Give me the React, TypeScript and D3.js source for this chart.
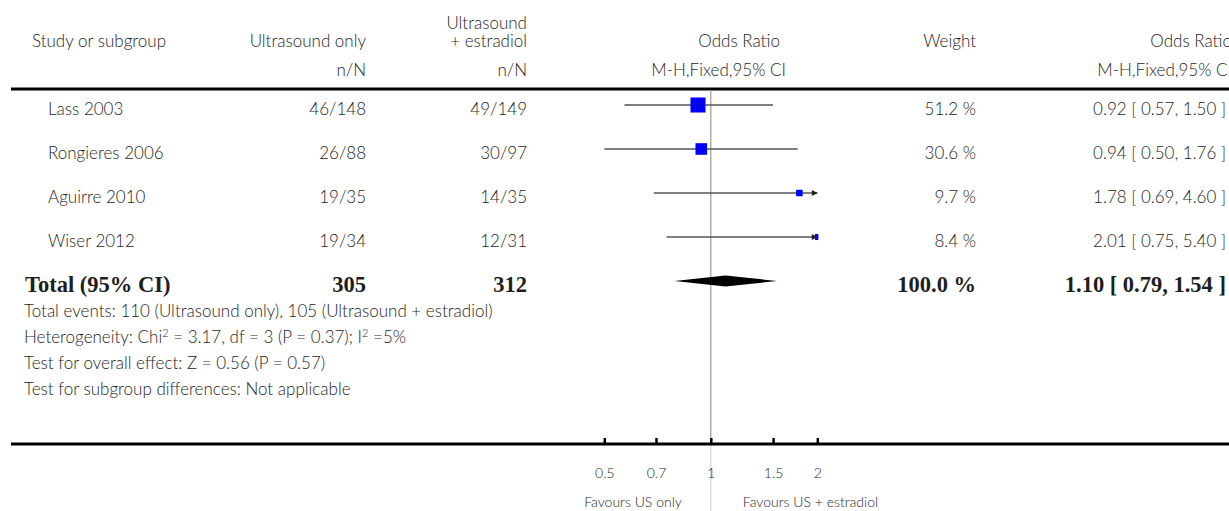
import { useEffect, useRef } from "react";
import * as d3 from "d3";

const studies = ["Lass 2003", "Rongieres 2006", "Aguirre 2010", "Wiser 2012"];
const usOnly = ["46/148", "26/88", "19/35", "19/34"];
const usEstradiol = ["49/149", "30/97", "14/35", "12/31"];
const oddsRatio = [0.92, 0.94, 1.78, 2.01];
const lowerCI = [0.57, 0.5, 0.69, 0.75];
const upperCI = [1.5, 1.76, 4.6, 5.4];
const weights = [51.2, 30.6, 9.7, 8.4];

const total = { label: "Total (95% CI)", usOnly: "305", usEstradiol: "312", weight: "100.0 %", or: 1.1, lower: 0.79, upper: 1.54 };

const footnotes = [
  "Total events: 110 (Ultrasound only), 105 (Ultrasound + estradiol)",
  "Heterogeneity: Chi² = 3.17, df = 3 (P = 0.37); I² =5%",
  "Test for overall effect: Z = 0.56 (P = 0.57)",
  "Test for subgroup differences: Not applicable",
];

const tickValues = [0.5, 0.7, 1, 1.5, 2];
const tickLabels = ["0.5", "0.7", "1", "1.5", "2"];

const SANS = "Lato, 'Open Sans', sans-serif";
const SERIF = "'Liberation Serif', 'DejaVu Serif', serif";

export default function App() {
  const svgRef = useRef<SVGSVGElement>(null);

  useEffect(() => {
    if (!svgRef.current) return;
    const svg = d3.select(svgRef.current);
    svg.selectAll("*").remove();

    const width = 1229;
    const col = { study: 48, usOnly: 366, usEst: 527, weight: 976, orText: 1226 };
    const rowY0 = 105;
    const rowStep = 44;
    const totalY = 281;
    const axisY = 444;
    const fs = 17;

    const x = d3.scaleLog().domain([0.5, 2]).range([604.3, 817.3]);
    const [xMin, xMax] = x.range();

    const text = (
      t: string,
      tx: number,
      ty: number,
      anchor = "start",
      size = fs,
      family = SANS,
      weight: string | number = 300
    ) =>
      svg
        .append("text")
        .attr("x", tx)
        .attr("y", ty)
        .attr("text-anchor", anchor)
        .attr("font-family", family)
        .attr("font-size", size)
        .attr("font-weight", weight)
        .attr("fill", "#1e1e1e")
        .text(t);

    // header
    text("Ultrasound", col.usEst, 29, "end");
    text("Study or subgroup", 32, 47);
    text("Ultrasound only", col.usOnly, 47, "end");
    text("+ estradiol", col.usEst, 47, "end");
    text("Odds Ratio", 780, 47, "end");
    text("Weight", col.weight, 47, "end");
    text("Odds Ratio", 1232, 47, "end");
    text("n/N", col.usOnly, 76, "end");
    text("n/N", col.usEst, 76, "end");
    text("M-H,Fixed,95% CI", 786, 76, "end");
    text("M-H,Fixed,95% CI", 1232, 76, "end");

    svg.append("line")
      .attr("x1", 11).attr("x2", width)
      .attr("y1", 89).attr("y2", 89)
      .attr("stroke", "#000").attr("stroke-width", 3);

    // vertical line of no effect
    svg.append("line")
      .attr("x1", x(1)).attr("x2", x(1))
      .attr("y1", 90).attr("y2", axisY)
      .attr("stroke", "#9a9a9a").attr("stroke-width", 1.2);
    svg.append("line")
      .attr("x1", x(1)).attr("x2", x(1))
      .attr("y1", axisY).attr("y2", 511)
      .attr("stroke", "#d4d4d4").attr("stroke-width", 1.2);

    const clip = (v: number) => Math.max(xMin, Math.min(xMax, v));

    svg.append("defs").append("clipPath").attr("id", "plotClip")
      .append("rect").attr("x", xMin - 1).attr("y", 80).attr("width", xMax - xMin + 2).attr("height", 300);

    const plot = svg.append("g").attr("clip-path", "url(#plotClip)");

    studies.forEach((name, i) => {
      const y = rowY0 + i * rowStep;
      text(name, col.study, y + 10);
      text(usOnly[i], col.usOnly, y + 10, "end");
      text(usEstradiol[i], col.usEst, y + 10, "end");
      text(`${weights[i].toFixed(1)} %`, col.weight, y + 10, "end");
      text(
        `${oddsRatio[i].toFixed(2)} [ ${lowerCI[i].toFixed(2)}, ${upperCI[i].toFixed(2)} ]`,
        col.orText, y + 10, "end"
      );

      const lo = clip(x(lowerCI[i]));
      const hiRaw = x(upperCI[i]);
      const hi = clip(hiRaw);
      plot.append("line")
        .attr("x1", lo).attr("x2", hi)
        .attr("y1", y).attr("y2", y)
        .attr("stroke", "#555").attr("stroke-width", 1.6);
      if (hiRaw > xMax) {
        plot.append("path")
          .attr("d", `M${xMax + 0.5},${y} L${xMax - 5.5},${y - 3} L${xMax - 5.5},${y + 3} Z`)
          .attr("fill", "#222");
      }
      const side = 2.1 * Math.sqrt(weights[i]);
      const cx = x(oddsRatio[i]);
      plot.append("rect")
        .attr("x", cx - side / 2).attr("y", y - side / 2)
        .attr("width", side).attr("height", side)
        .attr("fill", "#0000ff");
      plot.append("line")
        .attr("x1", cx).attr("x2", cx)
        .attr("y1", y - 2).attr("y2", y + 2)
        .attr("stroke", "#222").attr("stroke-width", 1);
    });

    // total row
    const tfs = 22.5;
    text(total.label, 25, totalY + 11, "start", tfs, SERIF, "bold");
    text(total.usOnly, col.usOnly, totalY + 11, "end", tfs, SERIF, "bold");
    text(total.usEstradiol, col.usEst, totalY + 11, "end", tfs, SERIF, "bold");
    text(total.weight, col.weight, totalY + 11, "end", tfs, SERIF, "bold");
    text(
      `${total.or.toFixed(2)} [ ${total.lower.toFixed(2)}, ${total.upper.toFixed(2)} ]`,
      col.orText, totalY + 11, "end", tfs, SERIF, "bold"
    );
    plot.append("path")
      .attr("d", `M${x(total.lower)},${totalY} L${x(total.or)},${totalY - 5.5} L${x(total.upper)},${totalY} L${x(total.or)},${totalY + 5.5} Z`)
      .attr("fill", "#000");

    // footnotes, with ² drawn as a real superscript
    footnotes.forEach((t, i) => {
      const node = text("", 24, 317 + i * 26);
      t.split("²").forEach((part, j) => {
        if (j > 0) {
          node.append("tspan").attr("dy", -6).attr("font-size", 11).text("2");
          node.append("tspan").attr("dy", 6).text(part);
        } else {
          node.append("tspan").text(part);
        }
      });
    });

    // axis
    svg.append("line")
      .attr("x1", 11).attr("x2", width)
      .attr("y1", axisY).attr("y2", axisY)
      .attr("stroke", "#000").attr("stroke-width", 3);

    const axis = d3.axisBottom(x)
      .tickValues(tickValues)
      .tickFormat((_, i) => tickLabels[i])
      .tickSizeInner(-6)
      .tickSizeOuter(0)
      .tickPadding(24);
    const ag = svg.append("g").attr("transform", `translate(0,${axisY})`).call(axis);
    ag.select(".domain").remove();
    ag.selectAll(".tick line").attr("stroke", "#000").attr("stroke-width", 2.5);
    ag.selectAll(".tick text")
      .attr("font-family", SANS)
      .attr("font-weight", 300)
      .attr("font-size", 14)
      .attr("fill", "#1e1e1e");

    text("Favours US only", x(1) - 29, 507, "end", 14);
    text("Favours US + estradiol", x(1) + 32, 507, "start", 14);
  }, []);

  return (
    <div style={{ position: "fixed", left: 0, top: 0, background: "#fff" }}>
      <svg ref={svgRef} width={1229} height={511} style={{ display: "block" }} />
    </div>
  );
}
